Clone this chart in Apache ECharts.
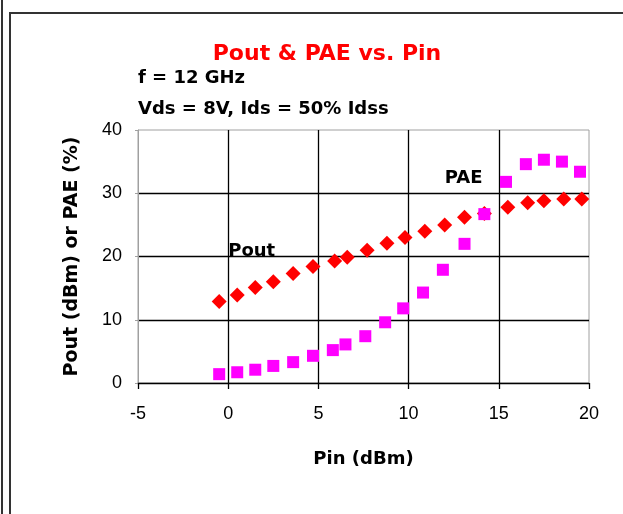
<!DOCTYPE html>
<html>
<head>
<meta charset="utf-8">
<script src="https://cdn.jsdelivr.net/npm/echarts@6/dist/echarts.min.js"></script>
<style>
html,body{margin:0;padding:0;background:#fff;}
#chart{width:623px;height:514px;}
</style>
</head>
<body>
<div id="chart"></div>
<script>
// Data
var pinPout = [-0.5, 0.5, 1.5, 2.5, 3.6, 4.7, 5.9, 6.6, 7.7, 8.8, 9.8, 10.9, 12.0, 13.1, 14.2, 15.5, 16.6, 17.5, 18.6, 19.6];
var poutValues = [12.9, 13.9, 15.1, 16.0, 17.3, 18.4, 19.3, 19.9, 21.0, 22.1, 23.0, 24.0, 25.0, 26.2, 26.8, 27.8, 28.5, 28.8, 29.1, 29.1];
var pinPae = [-0.5, 0.5, 1.5, 2.5, 3.6, 4.7, 5.8, 6.5, 7.6, 8.7, 9.7, 10.8, 11.9, 13.1, 14.2, 15.4, 16.5, 17.5, 18.5, 19.5];
var paeValues = [1.4, 1.7, 2.1, 2.7, 3.3, 4.3, 5.2, 6.1, 7.4, 9.6, 11.8, 14.3, 17.9, 22.0, 26.7, 31.8, 34.6, 35.3, 35.0, 33.4];
var xTicks = [-5, 0, 5, 10, 15, 20];
var yTicks = [0, 10, 20, 30, 40];
var titleText = 'Pout & PAE vs. Pin';
var noteLines = ['f = 12 GHz', 'Vds = 8V, Ids = 50% Idss'];
var annotations = [
  {name: 'Pout', value: [0, 20], align: 'left'},
  {name: 'PAE', value: [14.1, 31.5], align: 'right'}
];

function pairs(xs, ys){ return xs.map(function(x,i){ return [x, ys[i]]; }); }

var chart = echarts.init(document.getElementById('chart'), null, {renderer:'canvas'});
var BOLD = '"DejaVu Sans", sans-serif';
var REG = '"Liberation Sans", Arial, sans-serif';

chart.setOption({
  animation: false,
  backgroundColor: '#ffffff',
  title: {
    text: titleText,
    left: 322, top: 38, textAlign: 'center',
    textStyle: {color: '#ff0000', fontFamily: BOLD, fontWeight: 'bold', fontSize: 22}
  },
  graphic: [
    {type:'rect', shape:{x:1, y:0, width:2, height:514}, style:{fill:'#333'}},
    {type:'rect', shape:{x:9, y:12, width:2, height:502}, style:{fill:'#333'}},
    {type:'rect', shape:{x:9, y:12, width:614, height:2}, style:{fill:'#333'}},
    {type:'text', left: 138, top: 69, style:{text: noteLines[0], fill:'#000', font: 'bold 18px "DejaVu Sans"'}},
    {type:'text', left: 138, top: 100, style:{text: noteLines[1], fill:'#000', font: 'bold 18px "DejaVu Sans"'}}
  ],
  grid: {
    left: 138, top: 130, width: 451, height: 253,
    show: true, borderColor: '#a0a0a0', borderWidth: 1, backgroundColor: '#fff'
  },
  xAxis: {
    type: 'value', min: xTicks[0], max: xTicks[xTicks.length-1], interval: 5,
    name: 'Pin (dBm)', nameLocation: 'middle', nameGap: 67,
    nameTextStyle: {fontFamily: BOLD, fontWeight: 'bold', fontSize: 18, color: '#000'},
    axisLine: {show: true, onZero: false, lineStyle: {color: '#000', width: 1.3}},
    axisTick: {show: true, length: 6, lineStyle: {color: '#000', width: 1.3}},
    axisLabel: {margin: 22, fontFamily: REG, fontSize: 18, color: '#000'},
    splitLine: {show: true, showMinLine: false, showMaxLine: false, lineStyle: {color: '#000', width: 1.3}}
  },
  yAxis: {
    type: 'value', min: yTicks[0], max: yTicks[yTicks.length-1], interval: 10,
    name: 'Pout (dBm) or PAE (%)', nameLocation: 'middle', nameGap: 56,
    nameTextStyle: {fontFamily: BOLD, fontWeight: 'bold', fontSize: 19, color: '#000'},
    axisLine: {show: true, onZero: false, lineStyle: {color: '#a0a0a0', width: 1}},
    axisTick: {show: true, length: 3, lineStyle: {color: '#a0a0a0'}},
    axisLabel: {margin: 16, fontFamily: REG, fontSize: 18, color: '#000'},
    splitLine: {show: true, showMinLine: false, showMaxLine: false, lineStyle: {color: '#000', width: 1.3}}
  },
  series: [
    {
      name: 'Pout', type: 'scatter', symbol: 'diamond', symbolSize: 15,
      itemStyle: {color: '#ff0000', opacity: 1},
      data: pairs(pinPout, poutValues), z: 3
    },
    {
      name: 'PAE', type: 'scatter', symbol: 'rect', symbolSize: 12,
      itemStyle: {color: '#ff00ff', opacity: 1},
      data: pairs(pinPae, paeValues), z: 4
    },
    {
      name: 'labels', type: 'scatter', symbolSize: 0, silent: true, z: 5,
      itemStyle: {color: '#000', opacity: 1},
      data: annotations.map(function(a){
        return {name: a.name, value: a.value,
          label: {show: true, position: 'inside', formatter: '{b}', align: a.align, verticalAlign: 'bottom',
                  offset: [0, 4], fontFamily: BOLD, fontWeight: 'bold', fontSize: 18, color: '#000',
                  textBorderWidth: 0, opacity: 1}};
      })
    }
  ]
});
</script>
</body>
</html>
